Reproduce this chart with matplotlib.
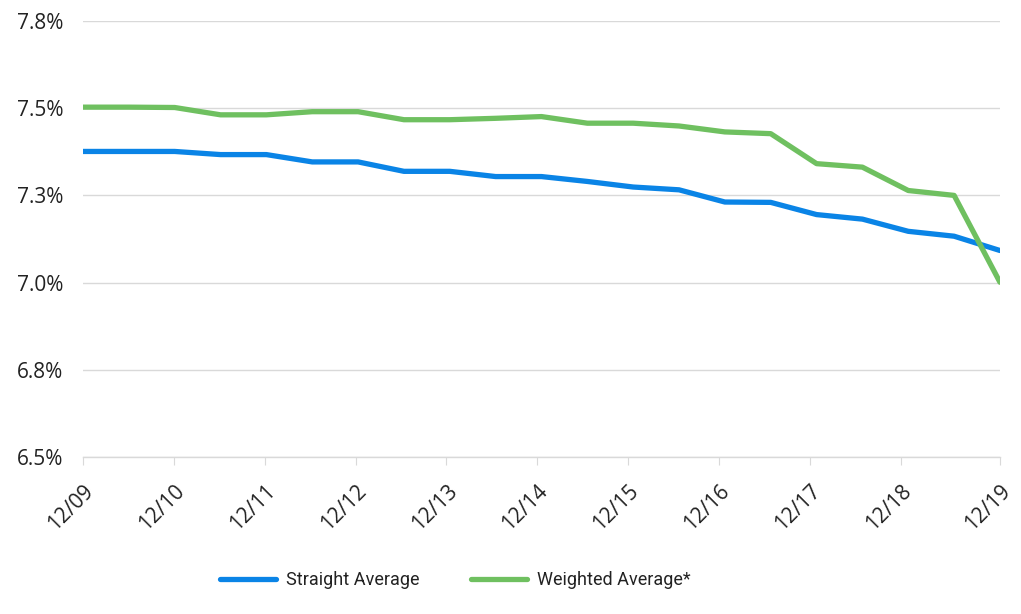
import matplotlib
matplotlib.use('Agg')
import matplotlib.pyplot as plt
import numpy as np

# half-year observations, 12/09 .. 12/19
straight_avg = [7.376, 7.376, 7.376, 7.367, 7.367, 7.346, 7.346, 7.319, 7.319, 7.304, 7.304,
                7.290, 7.274, 7.266, 7.231, 7.230, 7.195, 7.182, 7.147, 7.133, 7.092]
weighted_avg = [7.503, 7.503, 7.502, 7.481, 7.481, 7.490, 7.490, 7.467, 7.467, 7.471, 7.476,
                7.457, 7.457, 7.449, 7.432, 7.427, 7.341, 7.331, 7.264, 7.250, 7.001]
tick_labels = ["12/09", "12/10", "12/11", "12/12", "12/13", "12/14",
               "12/15", "12/16", "12/17", "12/18", "12/19"]
y_ticks = [6.5, 6.75, 7.0, 7.25, 7.5, 7.75]
y_labels = ["6.5%", "6.8%", "7.0%", "7.3%", "7.5%", "7.8%"]

BLUE = "#0A84E6"
GREEN = "#6FC060"
GRID = "#d9d9d9"
TEXT = "#222222"

plt.rcParams['font.family'] = ['Open Sans', 'DejaVu Sans']

fig = plt.figure(figsize=(10.21, 6.14), dpi=100)
ax = fig.add_axes([0.0813, 0.2557, 0.8981, 0.7101])

x = np.arange(len(straight_avg))
ax.plot(x, straight_avg, color=BLUE, linewidth=3.8, solid_capstyle="round",
        label="Straight Average", zorder=3)
ax.plot(x, weighted_avg, color=GREEN, linewidth=3.8, solid_capstyle="round",
        label="Weighted Average*", zorder=3)

ax.set_xlim(0, len(x) - 1)
ax.set_ylim(6.5, 7.75)

ax.set_yticks(y_ticks)
ax.set_yticklabels(y_labels)
# tick positions as drawn on the original axis
step = 1.982
xt = [i * step for i in range(len(tick_labels) - 1)] + [len(x) - 1]
ax.set_xticks(xt)
ax.set_xticklabels(tick_labels, rotation=45, ha="right", va="top",
                   rotation_mode="anchor")

ax.grid(True, axis="y", color=GRID, linewidth=1)
ax.set_axisbelow(True)
for s in ["top", "right", "left"]:
    ax.spines[s].set_visible(False)
ax.spines["bottom"].set_color(GRID)
ax.spines["bottom"].set_linewidth(1)
ax.tick_params(axis="y", length=0, pad=14, labelsize=15, labelcolor=TEXT)
ax.tick_params(axis="x", length=6, color=GRID, pad=11, labelsize=15, labelcolor=TEXT)

fig.legend(loc="center", bbox_to_anchor=(0.446, 0.055), ncol=2, frameon=False,
           handlelength=3.1, handletextpad=0.55, columnspacing=2.9,
           labelcolor=TEXT, prop={'family': ['Roboto', 'DejaVu Sans'], 'size': 13})

fig.savefig("out.png", dpi=100)
